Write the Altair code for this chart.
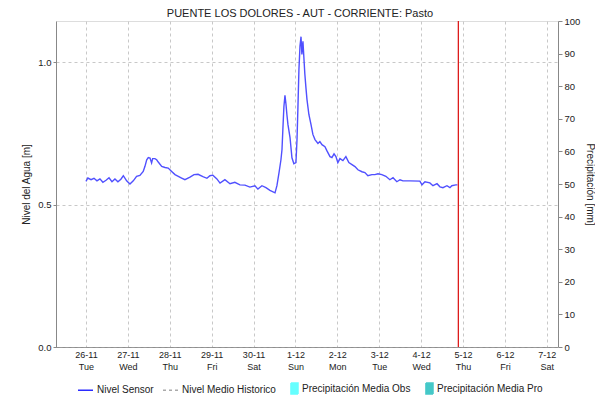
import altair as alt
import pandas as pd

titulo = "PUENTE LOS DOLORES - AUT - CORRIENTE: Pasto"
inicio = "2024-11-26T00:00:00"

# hours since 26-11 00:00 and water level [m]
horas = [0.0, 1.1, 2.9, 4.6, 6.3, 8.0, 9.7, 11.5, 13.2, 14.9, 16.6, 18.3, 20.0, 21.4, 23.3,
         25.2, 27.1, 29.0, 30.9, 32.8, 33.8, 34.8, 35.7, 36.7, 37.6, 38.2, 39.5, 40.5, 41.4,
         43.4, 45.3, 47.1, 49.1, 51.0, 52.9, 54.8, 56.7, 59.6, 61.9, 64.2, 67.0, 69.3, 71.0,
         72.7, 75.0, 76.8, 79.6, 82.5, 85.3, 88.2, 91.1, 93.9, 96.8, 98.5, 100.8, 103.1,
         105.4, 108.3, 109.4, 110.6, 111.7, 112.3, 112.8, 113.4, 114.0, 114.6, 115.1, 115.7,
         116.9, 118.0, 119.1, 120.3, 120.9, 121.4, 122.0, 122.6, 123.2, 123.7, 124.3, 124.9,
         125.4, 126.0, 126.6, 127.7, 128.9, 130.0, 131.2, 132.9, 134.0, 135.2, 136.9, 138.0,
         139.8, 140.9, 142.1, 143.2, 144.3, 145.5, 147.2, 148.9, 150.6, 152.4, 154.1, 155.8,
         158.1, 159.8, 161.5, 163.8, 165.5, 167.3, 169.5, 171.8, 174.1, 175.9, 178.1, 179.9,
         181.6, 185.6, 191.3, 192.5, 194.2, 197.0, 198.8, 201.1, 202.8, 204.5, 206.8, 208.5,
         209.6, 211.9, 212.8]
nivel = [0.581, 0.593, 0.587, 0.592, 0.583, 0.590, 0.578, 0.585, 0.594, 0.580, 0.590, 0.580,
         0.589, 0.601, 0.583, 0.572, 0.583, 0.599, 0.602, 0.616, 0.634, 0.657, 0.665, 0.663,
         0.646, 0.661, 0.661, 0.657, 0.649, 0.634, 0.630, 0.628, 0.616, 0.605, 0.599, 0.593,
         0.587, 0.596, 0.605, 0.606, 0.598, 0.592, 0.601, 0.603, 0.590, 0.575, 0.587, 0.573,
         0.578, 0.569, 0.568, 0.561, 0.566, 0.554, 0.566, 0.559, 0.550, 0.541, 0.566, 0.612,
         0.657, 0.693, 0.763, 0.844, 0.883, 0.851, 0.816, 0.781, 0.735, 0.664, 0.643, 0.647,
         0.728, 0.834, 0.974, 1.055, 1.089, 1.027, 1.073, 1.009, 0.957, 0.911, 0.869, 0.816,
         0.781, 0.746, 0.728, 0.714, 0.721, 0.710, 0.703, 0.689, 0.668, 0.665, 0.678, 0.668,
         0.647, 0.661, 0.654, 0.668, 0.647, 0.640, 0.633, 0.622, 0.615, 0.612, 0.601, 0.605,
         0.605, 0.608, 0.605, 0.599, 0.587, 0.594, 0.580, 0.587, 0.583, 0.583, 0.582, 0.569,
         0.580, 0.576, 0.566, 0.573, 0.562, 0.559, 0.566, 0.559, 0.566, 0.569, 0.569]

ahora = ["2024-12-04T21:20:00"]

dias_precip = ["2024-11-26", "2024-11-27", "2024-11-28", "2024-11-29", "2024-11-30",
               "2024-12-01", "2024-12-02", "2024-12-03", "2024-12-04"]
precip_obs = [0, 0, 0, 0, 0, 0, 0, 0, 0]
ejes_precip = [0, 10, 20, 30, 40, 50, 60, 70, 80, 90, 100]
ejes_nivel = [0.0, 0.5, 1.0]

series = ["Nivel Sensor", "Nivel Medio Historico", "Precipitación Media Obs", "Precipitación Media Pro"]
trazos = ["#2b2bff", "#aaaaaa", "#66ffff", "#44c8c8"]
rellenos = ["transparent", "transparent", "#66ffff", "#44c8c8"]
formas = ["stroke", "stroke", "M0.06,-0.73H1V0.73H0.06Z", "M0.06,-0.73H1V0.73H0.06Z"]
guiones = [[1, 0], [3, 3], [1, 0], [1, 0]]

t0 = pd.to_datetime(inicio)
df_nivel = pd.DataFrame({"t": (t0 + pd.to_timedelta(horas, unit="h")).round("min"), "v": nivel})
df_precip = pd.DataFrame({"t": pd.to_datetime(dias_precip) + pd.Timedelta(hours=12), "p": precip_obs})
df_ahora = pd.DataFrame({"t": pd.to_datetime(ahora)})
df_leg = pd.DataFrame({"t": pd.to_datetime(["2024-11-20T00:00:00"] * 4), "serie": series})

FONT = "Liberation Sans"
GRID = "#c8c8c8"

x_enc = alt.X(
    "t:T",
    scale=alt.Scale(domain=[alt.DateTime(year=2024, month=11, date=25, hours=6, minutes=50),
                            alt.DateTime(year=2024, month=12, date=7, hours=6, minutes=25)],
                    padding=0, nice=False),
    axis=alt.Axis(title=None, tickCount={"interval": "day", "step": 1},
                  labelExpr="[timeFormat(datum.value, '%-d-%m'), timeFormat(datum.value, '%a')]",
                  grid=True, gridDash=[3, 3], gridColor=GRID, ticks=False,
                  domainColor="#555", domainDash=[1, 1], labelFontSize=9, labelColor="#222",
                  labelPadding=3, labelLineHeight=12, labelAngle=0, labelFlush=False,
                  labelOverlap=False, labelFont=FONT),
)

barras = alt.Chart(df_precip).mark_bar(color="#66ffff").encode(
    x=x_enc,
    y=alt.Y("p:Q", scale=alt.Scale(domain=[0, 100], nice=False),
            axis=alt.Axis(orient="right", title="Precipitación [mm]", values=ejes_precip,
                          grid=False, tickSize=4, domainColor="#888", tickColor="#888",
                          labelFontSize=9.5, labelColor="#222", labelPadding=2,
                          titleFontSize=10, titleFontWeight="normal", titleColor="#222",
                          titlePadding=5, labelFont=FONT, titleFont=FONT)),
)

linea = alt.Chart(df_nivel).mark_line(color="#5050ff", strokeWidth=1.4).encode(
    x=x_enc,
    y=alt.Y("v:Q", scale=alt.Scale(domain=[0, 1.144], nice=False, zero=False),
            axis=alt.Axis(orient="left", title="Nivel del Agua [m]", values=ejes_nivel,
                          format=".1f", grid=True, gridDash=[3, 3], gridColor=GRID,
                          tickSize=3, domainColor="#888", tickColor="#888",
                          labelFontSize=9.5, labelColor="#222", labelPadding=2,
                          titleFontSize=10, titleFontWeight="normal", titleColor="#222",
                          titlePadding=6, labelFont=FONT, titleFont=FONT)),
)

regla = alt.Chart(df_ahora).mark_rule(color="#dd1c1c", strokeWidth=1.3).encode(x=x_enc)

leg = alt.Legend(orient="none", legendX=21, legendY=359, direction="horizontal", title=None,
                 labelFontSize=10, labelColor="#222", labelFont=FONT, symbolSize=225,
                 symbolStrokeWidth=1.5, columnPadding=6, labelOffset=3, padding=0)

leyenda = alt.Chart(df_leg).mark_point(clip=True, opacity=1).encode(
    x=x_enc,
    shape=alt.Shape("serie:N", title=None, scale=alt.Scale(domain=series, range=formas), legend=leg),
    stroke=alt.Stroke("serie:N", title=None, scale=alt.Scale(domain=series, range=trazos), legend=leg),
    fill=alt.Fill("serie:N", title=None, scale=alt.Scale(domain=series, range=rellenos), legend=leg),
    strokeDash=alt.StrokeDash("serie:N", title=None, scale=alt.Scale(domain=series, range=guiones), legend=leg),
)

chart = alt.layer(barras, linea, regla, leyenda).resolve_scale(y="independent").properties(
    width=502, height=326,
    padding={"left": 48, "top": 13, "right": 37, "bottom": 49},
    autosize="none",
    title=alt.TitleParams(titulo, fontSize=11, fontWeight="normal", color="#222", offset=-3,
                          anchor="middle", dx=-7, font=FONT),
).configure_view(stroke="#888").configure(font=FONT)

chart.save("out.html", embed_options={"renderer": "svg", "actions": False})
